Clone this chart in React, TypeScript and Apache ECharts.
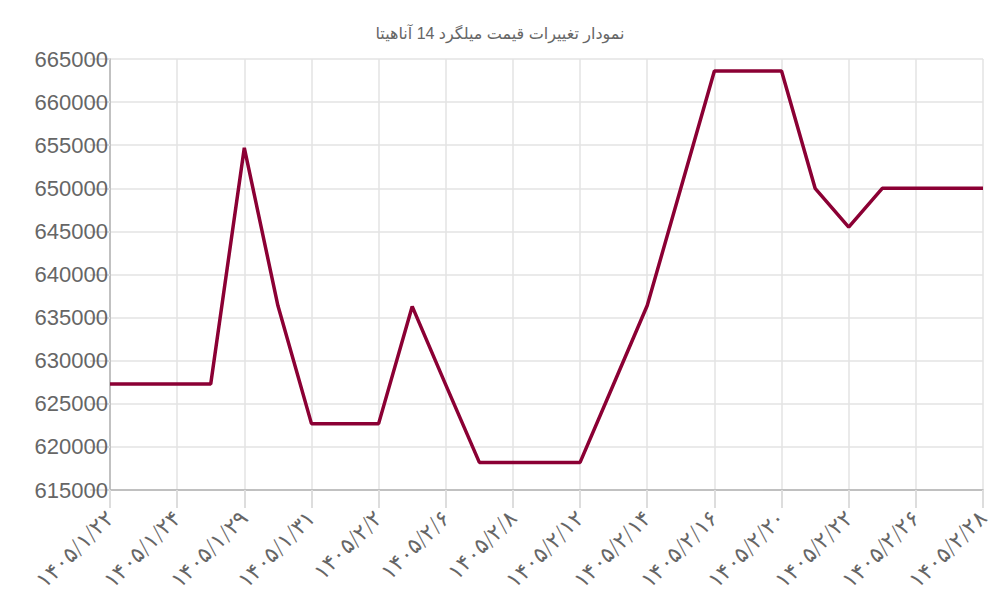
import React, { useEffect, useRef } from "react";
import * as echarts from "echarts";

const titleText = "نمودار تغییرات قیمت میلگرد 14 آناهیتا";

const dates = [
  "۱۴۰۵/۱/۲۲", "۱۴۰۵/۱/۲۳", "۱۴۰۵/۱/۲۴", "۱۴۰۵/۱/۲۶", "۱۴۰۵/۱/۲۹",
  "۱۴۰۵/۱/۳۰", "۱۴۰۵/۱/۳۱", "۱۴۰۵/۲/۱", "۱۴۰۵/۲/۲", "۱۴۰۵/۲/۵",
  "۱۴۰۵/۲/۶", "۱۴۰۵/۲/۷", "۱۴۰۵/۲/۸", "۱۴۰۵/۲/۱۰", "۱۴۰۵/۲/۱۲",
  "۱۴۰۵/۲/۱۳", "۱۴۰۵/۲/۱۴", "۱۴۰۵/۲/۱۵", "۱۴۰۵/۲/۱۶", "۱۴۰۵/۲/۱۹",
  "۱۴۰۵/۲/۲۰", "۱۴۰۵/۲/۲۱", "۱۴۰۵/۲/۲۲", "۱۴۰۵/۲/۲۳", "۱۴۰۵/۲/۲۶",
  "۱۴۰۵/۲/۲۷", "۱۴۰۵/۲/۲۸",
];

const prices = [
  627300, 627300, 627300, 627300, 654700,
  636400, 622700, 622700, 622700, 636300,
  627200, 618200, 618200, 618200, 618200,
  627300, 636400, 650000, 663600, 663600,
  663600, 650000, 645500, 650000, 650000,
  650000, 650000,
];

const yMin = 615000;
const yMax = 665000;
const yStep = 5000;

const FONT = "'Liberation Sans', Arial, 'DejaVu Sans', sans-serif";

export default function App() {
  const ref = useRef<HTMLDivElement>(null);

  useEffect(() => {
    if (!ref.current) return;
    const chart = echarts.init(ref.current, undefined, { renderer: "svg" });
    chart.setOption({
      animation: false,
      backgroundColor: "#ffffff",
      title: {
        text: titleText,
        left: "center",
        top: 20,
        textStyle: {
          fontSize: 16,
          fontWeight: "normal",
          color: "#666666",
          fontFamily: FONT,
        },
      },
      grid: { left: 110, right: 17, top: 59, bottom: 110, containLabel: false },
      xAxis: {
        type: "category",
        data: dates,
        boundaryGap: false,
        axisLine: { show: true, lineStyle: { color: "#b3b3b3", width: 1.5 } },
        axisTick: {
          show: true,
          interval: 1,
          length: 18,
          lineStyle: { color: "#dddddd", width: 2 },
        },
        axisLabel: {
          interval: 1,
          rotate: 45,
          margin: 24,
          fontSize: 22,
          fontWeight: 200,
          color: "#666666",
          fontFamily: "'DejaVu Sans', sans-serif",
        },
        splitLine: {
          show: true,
          interval: 1,
          lineStyle: { color: "#e3e3e3", width: 1.5 },
        },
      },
      yAxis: {
        type: "value",
        min: yMin,
        max: yMax,
        interval: yStep,
        axisLine: { show: true, lineStyle: { color: "#b3b3b3", width: 1.5 } },
        axisTick: {
          show: true,
          length: 20,
          lineStyle: { color: "#dddddd", width: 2 },
        },
        axisLabel: {
          margin: 2,
          fontSize: 22,
          color: "#666666",
          fontFamily: FONT,
          formatter: (v: number) => String(v),
        },
        splitLine: { show: true, lineStyle: { color: "#e3e3e3", width: 1.5 } },
      },
      series: [
        {
          type: "line",
          data: prices,
          showSymbol: false,
          symbol: "none",
          lineStyle: { color: "#8b0034", width: 3.5 },
          itemStyle: { color: "#8b0034" },
        },
      ],
    });
    return () => chart.dispose();
  }, []);

  return (
    <div
      ref={ref}
      style={{ position: "fixed", left: 0, top: 0, width: 1000, height: 600 }}
    />
  );
}
